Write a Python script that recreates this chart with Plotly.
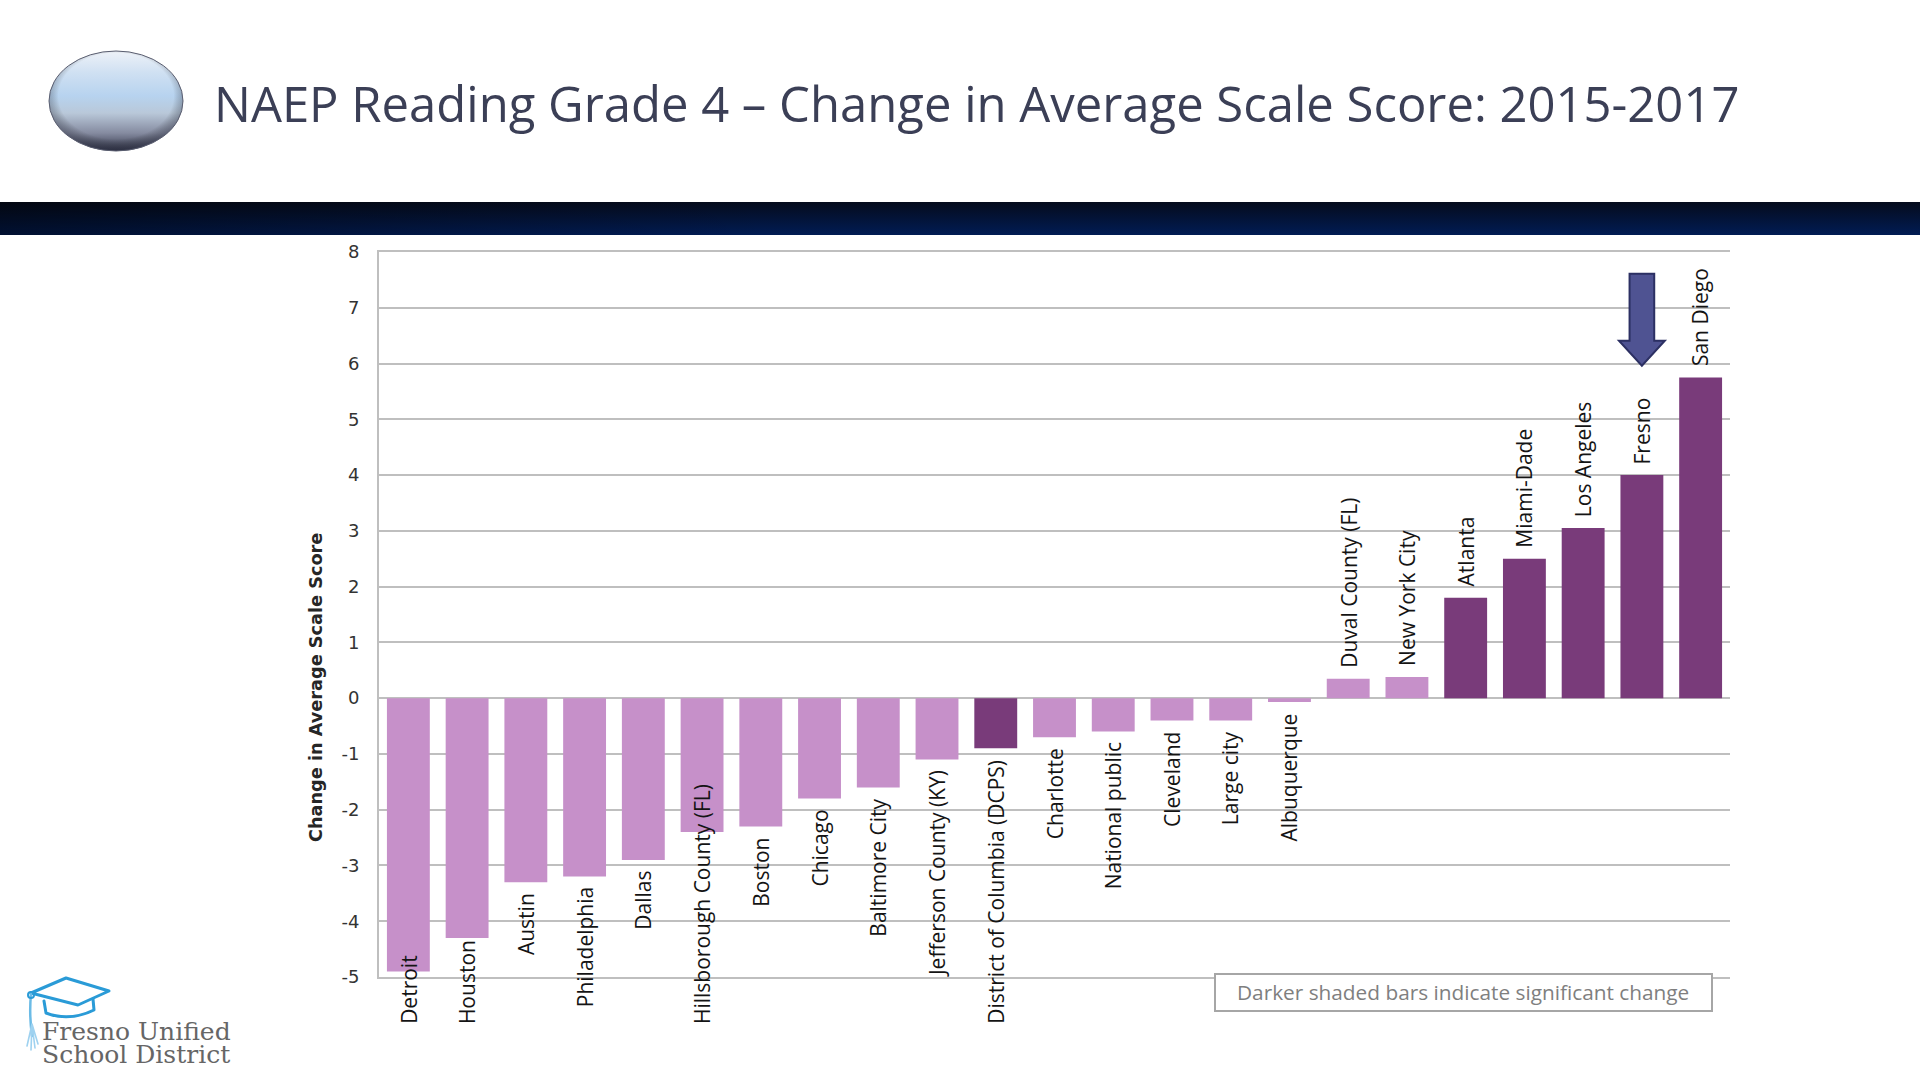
import base64
import plotly.graph_objects as go

# ---------------- data ----------------
categories = ["Detroit", "Houston", "Austin", "Philadelphia", "Dallas",
              "Hillsborough County (FL)", "Boston", "Chicago", "Baltimore City",
              "Jefferson County (KY)", "District of Columbia (DCPS)", "Charlotte",
              "National public", "Cleveland", "Large city", "Albuquerque",
              "Duval County (FL)", "New York City", "Atlanta", "Miami-Dade",
              "Los Angeles", "Fresno", "San Diego"]
values = [-4.9, -4.3, -3.3, -3.2, -2.9, -2.4, -2.3, -1.8, -1.6, -1.1, -0.9, -0.7,
          -0.6, -0.4, -0.4, -0.07, 0.35, 0.38, 1.8, 2.5, 3.05, 4.0, 5.75]
significant = [False] * 10 + [True] + [False] * 7 + [True] * 5
y_ticks = list(range(-5, 9))
y_tick_labels = [str(v) for v in y_ticks]
title_text = "NAEP Reading Grade 4 \u2013 Change in Average Scale Score: 2015-2017"
y_title = "Change in Average Scale Score"
note_text = "Darker shaded bars indicate significant change"
logo_lines = ["Fresno Unified", "School District"]
highlight = "Fresno"

# ---------------- styling / layout ----------------
W, H = 1920, 1080
L, R, T, B = 379, 1730, 252, 977
LIGHT, DARK = "#c690c9", "#793b7a"
GRID = "#bfbfbf"
LABEL_FS = 21
YMIN, YMAX = y_ticks[0], y_ticks[-1]


def px(x):
    return (x - L) / (R - L)


def py(y):
    return (B - y) / (B - T)


def dy(v):
    """data value -> paper fraction"""
    return (v - YMIN) / (YMAX - YMIN)


def svg_uri(svg):
    return "data:image/svg+xml;base64," + base64.b64encode(svg.encode()).decode()


OS = {' ': 0.26, 'a': 0.556, 'b': 0.613, 'c': 0.48, 'd': 0.613, 'e': 0.561, 'f': 0.34,
      'g': 0.55, 'h': 0.614, 'i': 0.252, 'j': 0.252, 'k': 0.53, 'l': 0.252, 'm': 0.93,
      'n': 0.614, 'o': 0.6, 'p': 0.613, 'q': 0.613, 'r': 0.41, 's': 0.48, 't': 0.35,
      'u': 0.614, 'v': 0.5, 'w': 0.77, 'x': 0.52, 'y': 0.5, 'z': 0.47, 'A': 0.63,
      'B': 0.65, 'C': 0.63, 'D': 0.73, 'E': 0.55, 'F': 0.51, 'G': 0.72, 'H': 0.74,
      'J': 0.27, 'K': 0.6, 'L': 0.52, 'M': 0.9, 'N': 0.76, 'P': 0.6, 'S': 0.55,
      'Y': 0.55, '(': 0.3, ')': 0.3, '-': 0.32}


def text_w(s, fs):
    return sum(OS.get(c, 0.55) for c in s) * fs


fig = go.Figure()
fig.add_trace(go.Bar(
    x=categories, y=values,
    marker=dict(color=[DARK if s else LIGHT for s in significant], line=dict(width=0)),
    hoverinfo="x+y", showlegend=False,
))

# data labels (Excel-like outside end, pushed inside chart area at bottom)
unit_px = (B - T) / (YMAX - YMIN)
gap_d = 10 / unit_px
floor_d = YMIN - (1025 - B) / unit_px
annotations = []
for cat, v in zip(categories, values):
    length_d = (text_w(cat, LABEL_FS) + 4) / unit_px
    if v < 0:
        top = v - gap_d
        if top - length_d < floor_d:
            yy, ya = floor_d, "bottom"
        else:
            yy, ya = top, "top"
    else:
        yy, ya = v + gap_d, "bottom"
    annotations.append(dict(
        x=cat, y=dy(yy), xref="x", yref="paper", text=cat, showarrow=False,
        textangle=-90, xanchor="center", yanchor=ya, borderpad=0,
        font=dict(family="Open Sans", size=LABEL_FS, color="#141414"),
    ))

# slide title
annotations.append(dict(
    x=px(212), y=py(103), xref="paper", yref="paper", text=title_text,
    showarrow=False, xanchor="left", yanchor="middle",
    font=dict(family="Open Sans", size=49, color="#3b3f56"),
))
# y axis title
annotations.append(dict(
    x=px(316), y=py(688), xref="paper", yref="paper", text="<b>" + y_title + "</b>",
    showarrow=False, textangle=-90, xanchor="center", yanchor="middle",
    font=dict(family="DejaVu Sans", size=17.7, color="#262626"),
))
# note box text
annotations.append(dict(
    x=px(1463), y=py(992), xref="paper", yref="paper", text=note_text,
    showarrow=False, xanchor="center", yanchor="middle",
    font=dict(family="Open Sans", size=20.8, color="#7f7f7f"),
))
# logo text
for txt, yc in zip(logo_lines, [1031, 1054]):
    annotations.append(dict(
        x=px(41), y=py(yc), xref="paper", yref="paper", text=txt,
        showarrow=False, xanchor="left", yanchor="middle", borderpad=0,
        font=dict(family="DejaVu Serif", size=25, color="#666666"),
    ))

shapes = []
# note box
shapes.append(dict(type="rect", xref="paper", yref="paper",
                   x0=px(1215), x1=px(1712), y0=py(974), y1=py(1011),
                   line=dict(color="#a6a6a6", width=2), fillcolor="white", layer="above"))
# block arrow above highlighted bar
hi = categories.index(highlight)
arrow_top, arrow_neck, arrow_tip = 7.61, 6.41, 5.96
sw, hw = 0.21, 0.39
path = (f"M {hi - sw},{arrow_top} L {hi + sw},{arrow_top} L {hi + sw},{arrow_neck} "
        f"L {hi + hw},{arrow_neck} L {hi},{arrow_tip} L {hi - hw},{arrow_neck} "
        f"L {hi - sw},{arrow_neck} Z")
shapes.append(dict(type="path", xref="x", yref="y", path=path,
                   fillcolor="#4f5392", line=dict(color="#2c3063", width=2), layer="above"))

# decorative images
ellipse_svg = """<svg xmlns="http://www.w3.org/2000/svg" width="140" height="104" viewBox="0 0 140 104">
<defs><linearGradient id="g" x1="0" y1="0" x2="0" y2="1">
<stop offset="0" stop-color="#eef2f8"/><stop offset="0.22" stop-color="#cfe0f2"/>
<stop offset="0.45" stop-color="#b7d3ef"/><stop offset="0.62" stop-color="#b9c8d9"/>
<stop offset="0.82" stop-color="#858ba0"/><stop offset="1" stop-color="#303347"/></linearGradient>
<radialGradient id="r" cx="0.5" cy="0.45" r="0.55"><stop offset="0.78" stop-color="#000" stop-opacity="0"/>
<stop offset="1" stop-color="#2a2d40" stop-opacity="0.45"/></radialGradient></defs>
<ellipse cx="70" cy="52" rx="67" ry="50" fill="url(#g)"/>
<ellipse cx="70" cy="52" rx="67" ry="50" fill="url(#r)" stroke="#5a5e70" stroke-width="1"/>
</svg>"""
band_svg = """<svg xmlns="http://www.w3.org/2000/svg" width="1920" height="33" viewBox="0 0 1920 33" preserveAspectRatio="none">
<defs><linearGradient id="v" x1="0" y1="0" x2="0" y2="1">
<stop offset="0" stop-color="#050b1c"/><stop offset="1" stop-color="#011c54"/></linearGradient>
<linearGradient id="h" x1="0" y1="0" x2="1" y2="0">
<stop offset="0" stop-color="#000" stop-opacity="0.4"/><stop offset="0.4" stop-color="#000" stop-opacity="0"/></linearGradient></defs>
<rect x="0" y="0" width="1920" height="33" fill="url(#v)"/>
<rect x="0" y="0" width="1920" height="33" fill="url(#h)"/>
</svg>"""
cap_svg = """<svg xmlns="http://www.w3.org/2000/svg" width="90" height="85" viewBox="0 0 90 85">
<g fill="none" stroke="#2a9bd7" stroke-linejoin="round" stroke-linecap="round">
<path d="M 9,19 L 44,4 L 87,17 L 56,31 Z" stroke-width="3" fill="#ffffff"/>
<path d="M 22,27 L 24,39 Q 47,48 72,36 L 71,25" stroke-width="3"/>
<path d="M 9,20 Q 7,40 10,62" stroke="#6bbbe6" stroke-width="2.5"/>
<path d="M 10,50 L 5,72 M 10,50 L 9,76 M 10,50 L 13,74 M 10,50 L 16,70" stroke="#9fd2f0" stroke-width="1.6"/>
<circle cx="9" cy="21" r="3" stroke-width="2"/>
</g></svg>"""
images = [
    dict(source=svg_uri(ellipse_svg), xref="paper", yref="paper",
         x=px(46), y=py(49), sizex=(186 - 46) / (R - L), sizey=(153 - 49) / (B - T),
         xanchor="left", yanchor="top", sizing="stretch", layer="above"),
    dict(source=svg_uri(band_svg), xref="paper", yref="paper",
         x=px(0), y=py(202), sizex=W / (R - L), sizey=33 / (B - T),
         xanchor="left", yanchor="top", sizing="stretch", layer="above"),
    dict(source=svg_uri(cap_svg), xref="paper", yref="paper",
         x=px(22), y=py(974), sizex=90 / (R - L), sizey=85 / (B - T),
         xanchor="left", yanchor="top", sizing="stretch", layer="above"),
]

fig.update_layout(
    width=W, height=H, autosize=False,
    margin=dict(l=L, r=W - R, t=T, b=H - B, pad=0),
    paper_bgcolor="white", plot_bgcolor="white",
    bargap=0.27,
    showlegend=False,
    annotations=annotations, shapes=shapes, images=images,
    xaxis=dict(showticklabels=False, ticks="", showgrid=False, zeroline=False,
               showline=True, linecolor=GRID, linewidth=2, mirror=True,
               fixedrange=True),
    yaxis=dict(range=[YMIN, YMAX], tickvals=y_ticks, ticktext=y_tick_labels,
               showgrid=True, gridcolor=GRID, gridwidth=2,
               zeroline=True, zerolinecolor=GRID, zerolinewidth=2,
               showline=True, linecolor=GRID, linewidth=2, ticks="",
               ticklabelstandoff=14,
               tickfont=dict(family="DejaVu Sans", size=18, color="#333333"),
               fixedrange=True),
)

fig.write_html(
    "out.html",
    config={"displayModeBar": False},
    post_script="document.body.style.margin='0px';document.body.style.overflow='hidden';",
)
